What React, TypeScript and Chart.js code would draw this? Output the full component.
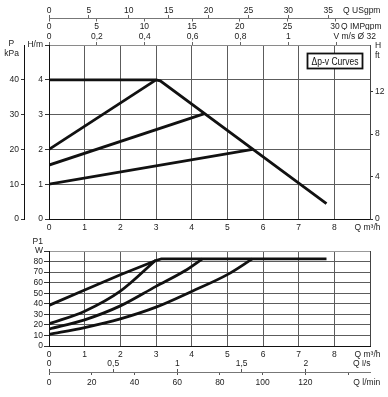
import React, { useEffect, useRef } from 'react';
import { Chart, registerables } from 'chart.js';

Chart.register(...registerables);

const FONT = "'Liberation Sans', Arial, Helvetica, sans-serif";
Chart.defaults.font.family = FONT;
Chart.defaults.font.size = 8.5;
Chart.defaults.color = '#222';

// ---------- top chart: delivery head H (m) vs flow Q (m3/h) ----------
const flowMaxHead = [0, 3.0, 3.12, 7.78];
const headMax = [4.0, 4.0, 3.97, 0.44];
const flowDpHigh = [0, 3.0];
const headDpHigh = [2.0, 4.0];
const flowDpMid = [0, 4.36];
const headDpMid = [1.55, 3.03];
const flowDpLow = [0, 5.71];
const headDpLow = [1.0, 2.0];

// ---------- bottom chart: power input P1 (W) vs flow Q (m3/h) ----------
const flowMaxPower = [0, 1, 2, 3.0, 3.15, 7.78];
const powerMax = [38.5, 53, 67.5, 81, 82.5, 82.5];
const flowPowHigh = [0, 1, 2, 3.0];
const powerHigh = [21, 33, 52, 81.5];
const flowPowMid = [0, 1, 2, 3, 3.8, 4.3];
const powerMid = [16, 24.8, 38, 56.5, 71, 82.5];
const flowPowLow = [0, 1, 2, 3, 4, 5, 5.7];
const powerLow = [11, 17.5, 25.7, 36.8, 51.7, 67.6, 82.5];

// ---------- axes ----------
const flowMax = 9;
const flowTicks = [0, 1, 2, 3, 4, 5, 6, 7, 8, 9];
const flowLabels = ['0', '1', '2', '3', '4', '5', '6', '7', '8', ''];
const flowUnit = 'Q m³/h';
const flowUnitAt = 8.93;

const headMaxM = 5;
const headTicks = [0, 1, 2, 3, 4, 5];
const headLabels = ['0', '1', '2', '3', '4', 'H/m'];

const kpaPerM = 10;
const kpaTicks = [0, 10, 20, 30, 40];
const kpaUnit = ['P  ', 'kPa'];
const kpaUnitAt = 48.85;

const ftPerM = 3.2808;
const ftTicks = [0, 4, 8, 12];
const ftUnit = ['H', 'ft'];
const ftUnitAt = 15.86;

const usgpmPerM3h = 4.47;
const usgpmTicks = [0, 5, 10, 15, 20, 25, 30, 35];
const usgpmUnit = 'Q USgpm';
const usgpmUnitAt = 39.2;

const impgpmPerM3h = 3.74;
const impgpmTicks = [0, 5, 10, 15, 20, 25, 30];
const impgpmUnit = 'Q IMPgpm';
const impgpmUnitAt = 32.75;

const velPerM3h = 0.149;
const velTicks = [0, 0.2, 0.4, 0.6, 0.8, 1, 1.2];
const velLabels = ['0', '0,2', '0,4', '0,6', '0,8', '1', ''];
const velUnit = 'V m/s Ø 32';
const velUnitAt = 1.277;

const powerMaxW = 90;
const powerTicks = [0, 10, 20, 30, 40, 50, 60, 70, 80, 90];
const powerLabels = ['0', '10', '20', '30', '40', '50', '60', '70', '80', 'W'];

const lsPerM3h = 1 / 3.6;
const lsTicks = [0, 0.5, 1, 1.5, 2];
const lsLabels = ['0', '0,5', '1', '1,5', '2'];
const lsUnit = 'Q l/s';
const lsUnitAt = 2.436;

const lminPerM3h = 16.7;
const lminTicks = [0, 20, 40, 60, 80, 100, 120, 140];
const lminLabels = ['0', '20', '40', '60', '80', '100', '120', ''];
const lminUnit = 'Q l/min';
const lminUnitAt = 148.8;

// ---------- helpers ----------
const GRID = '#5c5c5c';
const INK = '#111';

function fixedSize(w: number | null, h: number | null) {
  return (s: any) => {
    if (w !== null) s.width = w;
    if (h !== null) s.height = h;
    s.paddingLeft = 0;
    s.paddingRight = 0;
    s.paddingTop = 0;
    s.paddingBottom = 0;
  };
}
function customTicks(values: number[]) {
  return (s: any) => {
    s.ticks = values.map((v) => ({ value: v }));
  };
}
function labelsFrom(labels: (string | string[])[]) {
  return (_v: any, i: number) => labels[i];
}
function tickColorUpTo(n: number, color: string) {
  return (c: any) => (c.index !== undefined && c.index >= n ? 'transparent' : color);
}
function pts(xs: number[], ys: number[]) {
  return xs.map((x, i) => ({ x, y: ys[i] }));
}
const lineStyle = {
  borderColor: INK,
  borderWidth: 2.8,
  pointRadius: 0,
  fill: false,
  tension: 0,
  xAxisID: 'x',
  yAxisID: 'y',
};
const noTicks = { autoSkip: false, maxRotation: 0, minRotation: 0 };

const flowGridColor = (c: any) => {
  const v = c.tick?.value;
  if (v === 0 || v === flowUnitAt) return 'transparent';
  if (v === flowMax) return '#444';
  return GRID;
};
const xScale = (padding: number) => ({
  type: 'linear',
  position: 'bottom',
  weight: 0,
  min: 0,
  max: flowMax,
  afterBuildTicks: customTicks([...flowTicks, flowUnitAt]),
  afterFit: fixedSize(null, 14),
  ticks: { ...noTicks, padding, callback: labelsFrom([...flowLabels, flowUnit]) },
  grid: { drawTicks: false, color: flowGridColor, lineWidth: 1 },
  border: { color: INK, width: 1 },
});

const dpBox = {
  id: 'dpBox',
  afterDraw(chart: any) {
    const { ctx, chartArea: a } = chart;
    const x = a.right - 62.5;
    const y = a.top + 8.5;
    const w = 55;
    const h = 15;
    ctx.save();
    ctx.fillStyle = '#fff';
    ctx.fillRect(x, y, w, h);
    ctx.strokeStyle = INK;
    ctx.lineWidth = 1.8;
    ctx.strokeRect(x, y, w, h);
    ctx.fillStyle = INK;
    ctx.font = `11px ${FONT}`;
    ctx.textAlign = 'center';
    ctx.textBaseline = 'middle';
    ctx.fillText('Δp-v Curves', x + w / 2, y + h / 2 + 0.5, 47);
    ctx.restore();
  },
};

const p1Label = {
  id: 'p1Label',
  afterDraw(chart: any) {
    const { ctx, chartArea: a } = chart;
    ctx.save();
    ctx.fillStyle = '#222';
    ctx.font = `8.5px ${FONT}`;
    ctx.textAlign = 'right';
    ctx.textBaseline = 'middle';
    ctx.fillText('P1', a.left - 6, a.top - 9.7);
    ctx.restore();
  },
};

function topConfig(): any {
  return {
    type: 'line',
    data: {
      datasets: [
        { ...lineStyle, data: pts(flowMaxHead, headMax) },
        { ...lineStyle, data: pts(flowDpHigh, headDpHigh) },
        { ...lineStyle, data: pts(flowDpMid, headDpMid) },
        { ...lineStyle, data: pts(flowDpLow, headDpLow) },
      ],
    },
    options: {
      responsive: false,
      animation: false,
      events: [],
      layout: { padding: 0 },
      plugins: { legend: { display: false }, tooltip: { enabled: false } },
      scales: {
        x: xScale(3.5),
        us: {
          type: 'linear',
          position: 'top',
          weight: 3,
          min: 0,
          max: flowMax * usgpmPerM3h,
          afterBuildTicks: customTicks([...usgpmTicks, usgpmUnitAt]),
          afterFit: fixedSize(null, 18),
          ticks: { ...noTicks, padding: -0.6, callback: labelsFrom([...usgpmTicks.map(String), usgpmUnit]) },
          grid: { drawOnChartArea: false, tickLength: 3, tickColor: tickColorUpTo(usgpmTicks.length, '#666') },
          border: { color: '#777', dash: [289, 1000] },
        },
        imp: {
          type: 'linear',
          position: 'top',
          weight: 2,
          min: 0,
          max: flowMax * impgpmPerM3h,
          afterBuildTicks: customTicks([...impgpmTicks, impgpmUnitAt]),
          afterFit: fixedSize(null, 12),
          ticks: { ...noTicks, padding: -13.1, callback: labelsFrom([...impgpmTicks.map(String), impgpmUnit]) },
          grid: {
            drawOnChartArea: false,
            tickLength: 11.5,
            tickBorderDash: [3, 100],
            tickColor: tickColorUpTo(impgpmTicks.length, '#666'),
          },
          border: { display: false },
        },
        vel: {
          type: 'linear',
          position: 'top',
          weight: 1,
          min: 0,
          max: flowMax * velPerM3h,
          afterBuildTicks: customTicks([...velTicks, velUnitAt]),
          afterFit: fixedSize(null, 15),
          ticks: { ...noTicks, padding: 0.6, callback: labelsFrom([...velLabels, velUnit]) },
          grid: { drawOnChartArea: false, tickLength: 3, tickColor: tickColorUpTo(velTicks.length, '#666') },
          border: { color: '#8a8a8a' },
        },
        y: {
          type: 'linear',
          position: 'left',
          weight: 1,
          min: 0,
          max: headMaxM,
          afterBuildTicks: customTicks(headTicks),
          afterFit: fixedSize(25, null),
          ticks: { autoSkip: false, padding: 2, callback: labelsFrom(headLabels) },
          grid: {
            color: (c: any) => {
              const v = c.tick?.value;
              if (v === 0) return 'transparent';
              if (v === headMaxM) return '#999';
              return GRID;
            },
            tickLength: 4,
            tickColor: '#333',
          },
          border: { color: INK },
        },
        kpa: {
          type: 'linear',
          position: 'left',
          weight: 2,
          min: 0,
          max: headMaxM * kpaPerM,
          afterBuildTicks: customTicks([...kpaTicks, kpaUnitAt]),
          afterFit: fixedSize(24, null),
          ticks: { autoSkip: false, padding: 2, callback: labelsFrom([...kpaTicks.map(String), kpaUnit]) },
          grid: { drawOnChartArea: false, tickLength: 3, tickColor: tickColorUpTo(kpaTicks.length, '#333') },
          border: { color: INK },
        },
        ft: {
          type: 'linear',
          position: 'right',
          weight: 1,
          min: 0,
          max: headMaxM * ftPerM,
          afterBuildTicks: customTicks([...ftTicks, ftUnitAt]),
          afterFit: fixedSize(18, null),
          ticks: { autoSkip: false, padding: 2, callback: labelsFrom([...ftTicks.map(String), ftUnit]) },
          grid: { drawOnChartArea: false, tickLength: 3, tickColor: tickColorUpTo(ftTicks.length, '#333') },
          border: { color: '#444' },
        },
      },
    },
    plugins: [dpBox],
  };
}

function bottomConfig(): any {
  return {
    type: 'line',
    data: {
      datasets: [
        { ...lineStyle, data: pts(flowMaxPower, powerMax) },
        { ...lineStyle, cubicInterpolationMode: 'monotone', data: pts(flowPowHigh, powerHigh) },
        { ...lineStyle, cubicInterpolationMode: 'monotone', data: pts(flowPowMid, powerMid) },
        { ...lineStyle, cubicInterpolationMode: 'monotone', data: pts(flowPowLow, powerLow) },
      ],
    },
    options: {
      responsive: false,
      animation: false,
      events: [],
      layout: { padding: { top: 18, right: 18, bottom: 7, left: 0 } },
      plugins: { legend: { display: false }, tooltip: { enabled: false } },
      scales: {
        x: xScale(3.9),
        ls: {
          type: 'linear',
          position: 'bottom',
          weight: 1,
          min: 0,
          max: flowMax * lsPerM3h,
          afterBuildTicks: customTicks([...lsTicks, lsUnitAt]),
          afterFit: fixedSize(null, 12),
          ticks: { ...noTicks, padding: -13.1, callback: labelsFrom([...lsLabels, lsUnit]) },
          grid: {
            drawOnChartArea: false,
            tickLength: 12,
            tickBorderDash: [0, 9, 3, 100],
            tickColor: tickColorUpTo(lsTicks.length, '#555'),
          },
          border: { display: false },
        },
        lmin: {
          type: 'linear',
          position: 'bottom',
          weight: 2,
          min: 0,
          max: flowMax * lminPerM3h,
          afterBuildTicks: customTicks([...lminTicks, lminUnitAt]),
          afterFit: fixedSize(null, 18),
          ticks: { ...noTicks, padding: 2.3, callback: labelsFrom([...lminLabels, lminUnit]) },
          grid: { drawOnChartArea: false, tickLength: 3, tickColor: tickColorUpTo(lminTicks.length, '#555') },
          border: { color: '#777', dash: [300.5, 1000] },
        },
        y: {
          type: 'linear',
          position: 'left',
          weight: 1,
          min: 0,
          max: powerMaxW,
          afterBuildTicks: customTicks(powerTicks),
          afterFit: fixedSize(49, null),
          ticks: { autoSkip: false, padding: 1, callback: labelsFrom(powerLabels) },
          grid: {
            color: (c: any) => {
              const v = c.tick?.value;
              if (v === 0) return 'transparent';
              if (v === powerMaxW) return '#999';
              return GRID;
            },
            tickLength: 5,
            tickColor: '#333',
          },
          border: { color: INK },
        },
      },
    },
    plugins: [p1Label],
  };
}

export default function App() {
  const topRef = useRef<HTMLCanvasElement>(null);
  const botRef = useRef<HTMLCanvasElement>(null);
  useEffect(() => {
    const top = new Chart(topRef.current as HTMLCanvasElement, topConfig());
    const bot = new Chart(botRef.current as HTMLCanvasElement, bottomConfig());
    return () => {
      top.destroy();
      bot.destroy();
    };
  }, []);
  return (
    <div style={{ position: 'absolute', left: 0, top: 0, width: 388, height: 397, background: '#fff' }}>
      <canvas
        ref={topRef}
        width={388}
        height={233}
        style={{ position: 'absolute', left: 0, top: 0, width: 388, height: 233 }}
      />
      <canvas
        ref={botRef}
        width={388}
        height={164}
        style={{ position: 'absolute', left: 0, top: 233, width: 388, height: 164 }}
      />
    </div>
  );
}
